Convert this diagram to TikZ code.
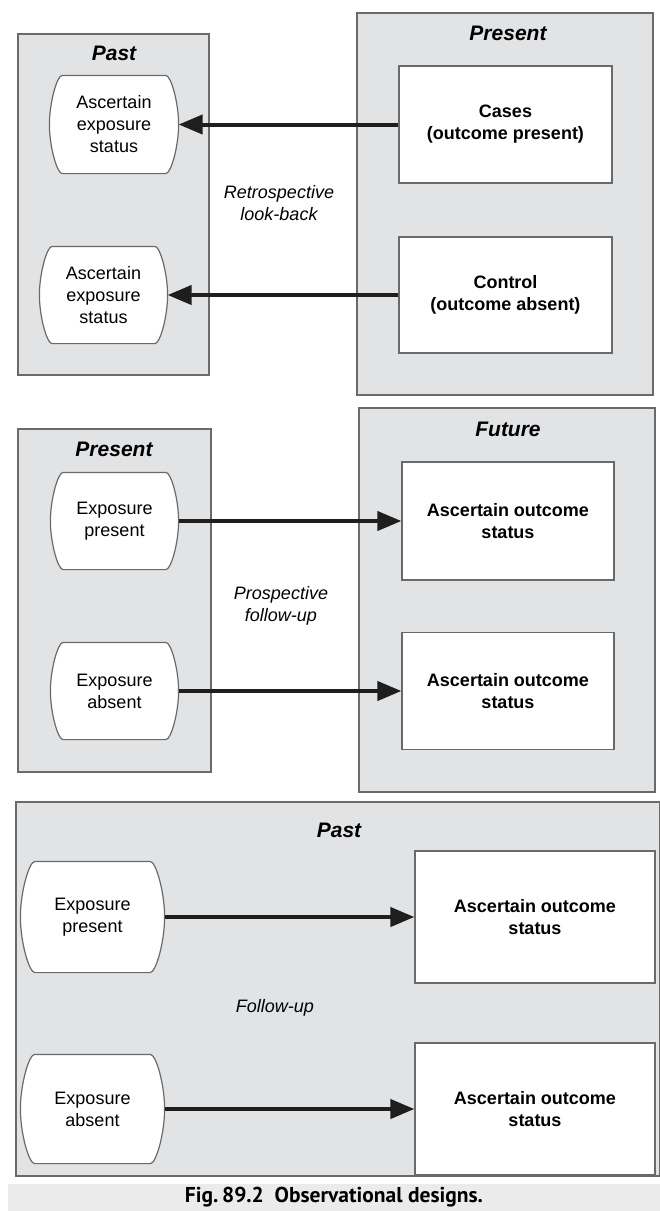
\documentclass[tikz,border=0pt]{standalone}
\usepackage{fontspec}
\setmainfont{Liberation Sans}
\newfontfamily\capfont{PT Sans}
\usetikzlibrary{positioning,arrows.meta}

\definecolor{panelgray}{HTML}{E2E3E5}
\definecolor{edgegray}{HTML}{6A6A6A}
\definecolor{capgray}{HTML}{EBEBEB}
\definecolor{arrowblack}{HTML}{1E1E1E}

% box with bulging left and right sides
\makeatletter
\pgfdeclareshape{bulgebox}{
  \inheritsavedanchors[from=rectangle]
  \inheritanchorborder[from=rectangle]
  \inheritanchor[from=rectangle]{center}
  \inheritanchor[from=rectangle]{north}
  \inheritanchor[from=rectangle]{south}
  \inheritanchor[from=rectangle]{east}
  \inheritanchor[from=rectangle]{west}
  \inheritanchor[from=rectangle]{north east}
  \inheritanchor[from=rectangle]{north west}
  \inheritanchor[from=rectangle]{south east}
  \inheritanchor[from=rectangle]{south west}
  \inheritanchor[from=rectangle]{text}
  \inheritanchor[from=rectangle]{base}
  \inheritanchor[from=rectangle]{mid}
  \backgroundpath{
    \southwest \edef\bbL{\the\pgf@x}\edef\bbB{\the\pgf@y}
    \northeast \edef\bbR{\the\pgf@x}\edef\bbT{\the\pgf@y}
    \pgfmathsetmacro\bbM{(\bbT+\bbB)/2}
    \pgfmathsetmacro\bbH{(\bbT-\bbB)/2}
    \pgfmathsetmacro\bbW{0.26*\bbH}
    \pgfpathmoveto{\pgfpoint{\bbL+\bbW pt}{\bbT}}
    \pgfpathlineto{\pgfpoint{\bbR-\bbW pt}{\bbT}}
    \pgfpathcurveto{\pgfpoint{\bbR-0.6*\bbW pt}{\bbT}}{\pgfpoint{\bbR}{\bbT-0.55*\bbH pt}}{\pgfpoint{\bbR}{\bbM pt}}
    \pgfpathcurveto{\pgfpoint{\bbR}{\bbB+0.55*\bbH pt}}{\pgfpoint{\bbR-0.6*\bbW pt}{\bbB}}{\pgfpoint{\bbR-\bbW pt}{\bbB}}
    \pgfpathlineto{\pgfpoint{\bbL+\bbW pt}{\bbB}}
    \pgfpathcurveto{\pgfpoint{\bbL+0.6*\bbW pt}{\bbB}}{\pgfpoint{\bbL}{\bbB+0.55*\bbH pt}}{\pgfpoint{\bbL}{\bbM pt}}
    \pgfpathcurveto{\pgfpoint{\bbL}{\bbT-0.55*\bbH pt}}{\pgfpoint{\bbL+0.6*\bbW pt}{\bbT}}{\pgfpoint{\bbL+\bbW pt}{\bbT}}
    \pgfpathclose
  }
}
\makeatother

\tikzset{
  panel/.style={rectangle, draw=edgegray, line width=1.2pt, fill=panelgray, inner sep=0pt},
  title/.style={inner sep=0pt, font=\fontsize{21}{24}\selectfont\bfseries\itshape},
  expo/.style={bulgebox, draw=edgegray, line width=1.2pt, fill=white, inner sep=0pt,
    align=center, font=\fontsize{18}{22}\selectfont},
  outcome/.style={rectangle, draw=edgegray, line width=1.2pt, fill=white, inner sep=0pt,
    align=center, font=\fontsize{18}{22}\selectfont\bfseries},
  note/.style={inner sep=0pt, align=center, font=\fontsize{18}{22}\selectfont\itshape},
  flow/.style={-{Triangle[length=24pt,width=19pt]}, line width=4pt, draw=arrowblack}
}

\begin{document}
\begin{tikzpicture}[x=1pt, y=-1pt]
      \useasboundingbox (0,0) rectangle (660,1211);
      % Define nodes: case-control
      \node[panel, minimum width=191pt, minimum height=341pt] (pastA) at (113.5,204.5) {};
      \node[panel, minimum width=296pt, minimum height=382pt] (presA) at (505,204) {};
      \node[title] (pastAt) at (114,53) {Past};
      \node[title] (presAt) at (508,33) {Present};
      \node[expo, minimum width=128pt, minimum height=97pt] (ascA) at (114,124.5) {Ascertain\\exposure\\status};
      \node[expo, minimum width=127pt, minimum height=96pt] (ascB) at (103.5,295) {Ascertain\\exposure\\status};
      \node[outcome, minimum width=213pt, minimum height=117pt] (cases) at (505.5,124.5) {Cases\\(outcome present)};
      \node[outcome, minimum width=213pt, minimum height=116pt] (control) at (505.5,295) {Control\\(outcome absent)};
      \node[note] (retro) at (279,203) {Retrospective\\look-back};
      % Define nodes: prospective cohort
      \node[panel, minimum width=193pt, minimum height=343pt] (presB) at (114.5,600.5) {};
      \node[panel, minimum width=296pt, minimum height=384pt] (futB) at (507,600) {};
      \node[title] (presBt) at (114,449) {Present};
      \node[title] (futBt) at (508,429) {Future};
      \node[expo, minimum width=127pt, minimum height=96pt] (expPB) at (114.5,521) {Exposure\\present};
      \node[expo, minimum width=127pt, minimum height=96pt] (expAB) at (114.5,691) {Exposure\\absent};
      \node[outcome, minimum width=212pt, minimum height=118pt] (outPB) at (508,521) {Ascertain outcome\\status};
      \node[outcome, minimum width=212pt, minimum height=117pt] (outAB) at (508,691) {Ascertain outcome\\status};
      \node[note] (prosp) at (281,606) {Prospective\\follow-up};
      % Define nodes: retrospective cohort
      \node[panel, minimum width=644pt, minimum height=374pt] (pastC) at (338,989) {};
      \node[title] (pastCt) at (339,830) {Past};
      \node[expo, minimum width=143pt, minimum height=110pt] (expPC) at (92.5,917) {Exposure\\present};
      \node[expo, minimum width=143pt, minimum height=108pt] (expAC) at (92.5,1109) {Exposure\\absent};
      \node[outcome, minimum width=240pt, minimum height=132pt] (outPC) at (535,917) {Ascertain outcome\\status};
      \node[outcome, minimum width=240pt, minimum height=132pt] (outAC) at (535,1109) {Ascertain outcome\\status};
      \node[note] (follow) at (275,1008) {Follow-up};
      % Caption
      \node[fill=capgray, minimum width=652pt, minimum height=27pt, inner sep=0pt,
        font=\capfont\fontsize{21.5}{24}\selectfont\bfseries] (caption) at (334,1197.5)
        {Fig.\,89.2\enspace Observational designs.};
      % Connect nodes
      \draw[flow] (cases) -- (ascA);
      \draw[flow] (control) -- (ascB);
      \draw[flow] (expPB) -- (outPB);
      \draw[flow] (expAB) -- (outAB);
      \draw[flow] (expPC) -- (outPC);
      \draw[flow] (expAC) -- (outAC);
    \end{tikzpicture}
\end{document}
